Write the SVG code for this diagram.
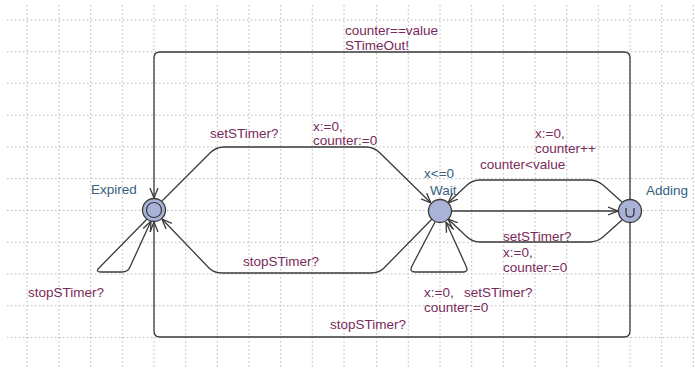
<svg xmlns="http://www.w3.org/2000/svg" width="695" height="368" viewBox="0 0 695 368">
<defs>
<style>
.grid line{stroke:#b8b8b8;stroke-width:1;stroke-dasharray:1.5 2.5}
.e{fill:none;stroke:#3a3a3a;stroke-width:1.3}
.lbl{font-family:"Liberation Sans",Arial,sans-serif;font-size:13.5px;fill:#7a2a5a}
.nl{font-family:"Liberation Sans",Arial,sans-serif;font-size:13.5px;fill:#35607f}
.loc{fill:#a9b3d8;stroke:#3a3a3a;stroke-width:1.3}
</style>
<marker id="arr" viewBox="0 0 10 10" refX="10" refY="5" markerWidth="10" markerHeight="10" markerUnits="userSpaceOnUse" orient="auto">
<path d="M0,1 L10,5 L0,9" fill="none" stroke="#3a3a3a" stroke-width="1.3"/>
</marker>
</defs>
<rect width="695" height="368" fill="#ffffff"/>
<g class="grid">
<line x1="27" y1="5" x2="27" y2="368"/><line x1="59" y1="5" x2="59" y2="368"/><line x1="90.7" y1="5" x2="90.7" y2="368"/><line x1="122.3" y1="5" x2="122.3" y2="368"/><line x1="154" y1="5" x2="154" y2="368"/><line x1="185.7" y1="5" x2="185.7" y2="368"/><line x1="217.3" y1="5" x2="217.3" y2="368"/><line x1="249" y1="5" x2="249" y2="368"/><line x1="280.7" y1="5" x2="280.7" y2="368"/><line x1="312.3" y1="5" x2="312.3" y2="368"/><line x1="344" y1="5" x2="344" y2="368"/><line x1="376.7" y1="5" x2="376.7" y2="368"/><line x1="408.3" y1="5" x2="408.3" y2="368"/><line x1="440" y1="5" x2="440" y2="368"/><line x1="471.7" y1="5" x2="471.7" y2="368"/><line x1="503.3" y1="5" x2="503.3" y2="368"/><line x1="535" y1="5" x2="535" y2="368"/><line x1="566.7" y1="5" x2="566.7" y2="368"/><line x1="598.3" y1="5" x2="598.3" y2="368"/><line x1="630" y1="5" x2="630" y2="368"/><line x1="661.7" y1="5" x2="661.7" y2="368"/><line x1="693.3" y1="5" x2="693.3" y2="368"/>
<line x1="7" y1="20" x2="695" y2="20"/><line x1="7" y1="51.7" x2="695" y2="51.7"/><line x1="7" y1="83.3" x2="695" y2="83.3"/><line x1="7" y1="115.3" x2="695" y2="115.3"/><line x1="7" y1="147" x2="695" y2="147"/><line x1="7" y1="178.7" x2="695" y2="178.7"/><line x1="7" y1="210.5" x2="695" y2="210.5"/><line x1="7" y1="242.3" x2="695" y2="242.3"/><line x1="7" y1="274" x2="695" y2="274"/><line x1="7" y1="305.7" x2="695" y2="305.7"/><line x1="7" y1="337.4" x2="695" y2="337.4"/>
</g>
<g id="connectors">
<path class="e" marker-end="url(#arr)" d="M630,199 L630,58 Q630,52 624,52 L160,52 Q154,52 154,58 L154,198"/>
<path class="e" marker-end="url(#arr)" d="M162,201 L210,153 Q216,147 224,147 L366,147 Q374,147 380,153 L431,203"/>
<path class="e" marker-end="url(#arr)" d="M432,219 L384,268 Q379,273 371,273 L222,273 Q214,273 209,268 L162,219"/>
<path class="e" marker-end="url(#arr)" d="M147,219 L99,268 Q95,272 101,272 L122,272 Q128,272 130,267 L151,221"/>
<path class="e" marker-end="url(#arr)" d="M435,222 L412,266 Q409,272 415,272 L463,272 Q469,272 466,266 L446,222"/>
<path class="e" marker-end="url(#arr)" d="M452,211 L618,211"/>
<path class="e" marker-end="url(#arr)" d="M622,202 L603,185 Q597,180 589,180 L480,180 Q472,180 466,186 L448,203"/>
<path class="e" marker-end="url(#arr)" d="M622,220 L603,237 Q597,242 589,242 L480,242 Q472,242 466,236 L448,219"/>
<path class="e" marker-end="url(#arr)" d="M630,223 L630,331 Q630,337 624,337 L160,337 Q154,337 154,331 L154,222"/>
</g>
<g id="edge-labels">
<text class="lbl" x="345" y="35">counter==value</text>
<text class="lbl" x="345" y="50">STimeOut!</text>
<text class="lbl" x="210" y="138">setSTimer?</text>
<text class="lbl" x="313" y="131">x:=0,</text>
<text class="lbl" x="313" y="145">counter:=0</text>
<text class="lbl" x="243" y="266">stopSTimer?</text>
<text class="lbl" x="28" y="297">stopSTimer?</text>
<text class="lbl" x="535" y="138">x:=0,</text>
<text class="lbl" x="535" y="153">counter++</text>
<text class="lbl" x="480" y="169">counter&lt;value</text>
<text class="lbl" x="503" y="241">setSTimer?</text>
<text class="lbl" x="503" y="257">x:=0,</text>
<text class="lbl" x="503" y="272">counter:=0</text>
<text class="lbl" x="424" y="297">x:=0,</text>
<text class="lbl" x="464" y="297">setSTimer?</text>
<text class="lbl" x="424" y="312">counter:=0</text>
<text class="lbl" x="330" y="329">stopSTimer?</text>
</g>
<g id="Expired">
<circle class="loc" cx="154" cy="210" r="11.5"/>
<circle cx="154" cy="210" r="7.5" fill="none" stroke="#3a3a3a" stroke-width="1.2"/>
<text class="nl" x="91" y="194">Expired</text>
</g>
<g id="Wait">
<circle class="loc" cx="440" cy="211" r="11.5"/>
<text class="nl" x="430" y="195">Wait</text>
<text class="nl" x="424" y="178">x&lt;=0</text>
</g>
<g id="Adding">
<circle class="loc" cx="630" cy="211" r="11.5"/>
<path d="M626,208 L626,213 Q626,217 630,217 Q634,217 634,213 L634,208" fill="none" stroke="#3a3a3a" stroke-width="1.3"/>
<text class="nl" x="646" y="195">Adding</text>
</g>
</svg>
